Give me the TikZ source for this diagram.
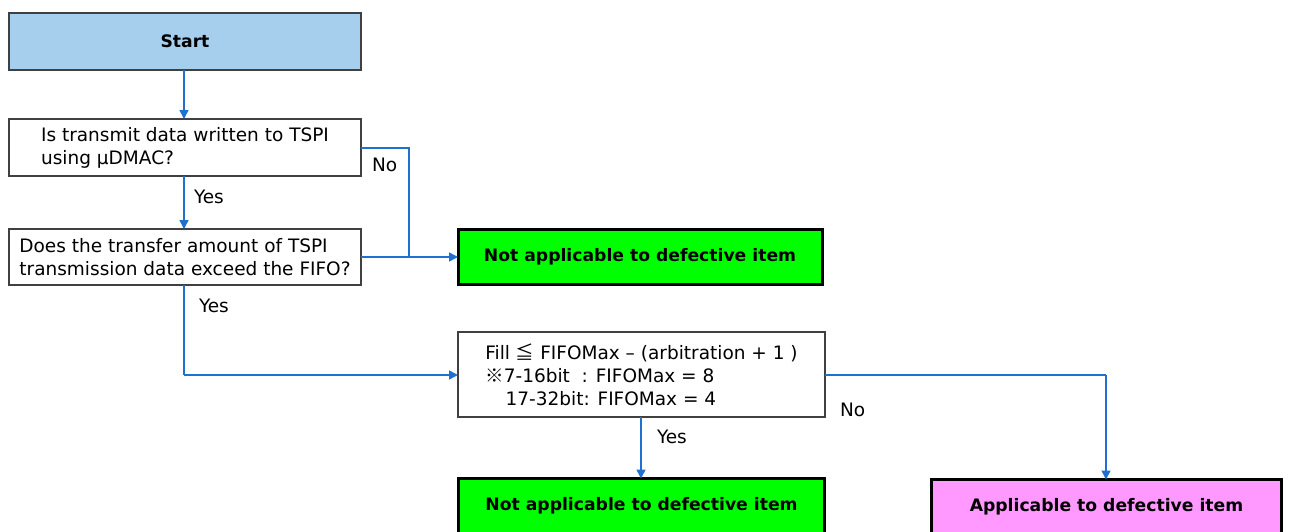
\documentclass[tikz,border=0pt]{standalone}
\usepackage{fontspec}
\setmainfont{DejaVu Sans}
\newfontfamily\cjk{Noto Sans CJK JP}
\usetikzlibrary{arrows.meta}
\definecolor{startblue}{HTML}{A6CFEE}
\definecolor{linkblue}{HTML}{2070D0}
\definecolor{okgreen}{HTML}{00FF00}
\definecolor{pinkbox}{HTML}{FF99FF}
\definecolor{boxgray}{HTML}{404040}
\begin{document}
\begin{tikzpicture}[x=1pt,y=-1pt,
  every node/.style={inner sep=0pt,outer sep=0pt},
  qbox/.style={draw=boxgray,line width=1.5pt,fill=white,align=left,font=\fontsize{18.5}{23}\selectfont},
  endbox/.style={draw=black,line width=3pt,font=\bfseries\fontsize{17.2}{23}\selectfont},
  conn/.style={draw=linkblue,line width=1.5pt},
  arr/.style={conn,-{Triangle[length=9pt,width=9pt]}},
  lbl/.style={font=\fontsize{18.5}{22}\selectfont,anchor=west}
]
\clip (0,0) rectangle (1289,531);
\fill[white] (0,0) rectangle (1289,531);

\node[qbox,fill=startblue,minimum width=352pt,minimum height=57pt,font=\bfseries\fontsize{17.2}{23}\selectfont] (start) at (185,41.5) {Start};
\node[qbox,minimum width=352pt,minimum height=57pt] (q1) at (185,147.5) {Is transmit data written to TSPI\\using µDMAC?};
\node[qbox,minimum width=352pt,minimum height=56pt] (q2) at (185,257) {Does the transfer amount of TSPI\\transmission data exceed the FIFO?};
\node[endbox,fill=okgreen,minimum width=364pt,minimum height=55pt] (na1) at (640,257) {Not applicable to defective item};
\node[qbox,minimum width=367pt,minimum height=85pt] (q3) at (641.5,374.5) {Fill {\cjk ≦} FIFOMax – (arbitration + 1 )\\{\cjk ※}7-16bit\ \ : FIFOMax = 8\\\hspace*{1.1em}17-32bit: FIFOMax = 4};
\node[endbox,fill=okgreen,minimum width=366pt,minimum height=55pt] (na2) at (641.5,506) {Not applicable to defective item};
\node[endbox,fill=pinkbox,minimum width=350pt,minimum height=55pt] (app) at (1106.5,507) {Applicable to defective item};

\coordinate (j1) at (409,148);
\coordinate (j2) at (409,257);
\coordinate (j3) at (184,375);
\coordinate (j4) at (1106,375);

\draw[arr] (start.south -| 184,0) -- (q1.north -| 184,0);
\draw[arr] (q1.south -| 184,0) -- (q2.north -| 184,0);
\draw[conn] (q1.east |- j1) -- (j1) -- (j2);
\draw[arr] (q2.east) -- (na1.west);
\draw[conn] (q2.south -| j3) -- (j3);
\draw[arr] (j3) -- (q3.west |- j3);
\draw[arr] (q3.south -| 641,0) -- (na2.north -| 641,0);
\draw[conn] (q3.east |- j4) -- (j4);
\draw[arr] (j4) -- (app.north -| j4);

\node[lbl] (l1) at (194,197) {Yes};
\node[lbl] (l2) at (372,165) {No};
\node[lbl] (l3) at (199,306) {Yes};
\node[lbl] (l4) at (657,437) {Yes};
\node[lbl] (l5) at (840,410) {No};
\end{tikzpicture}
\end{document}
